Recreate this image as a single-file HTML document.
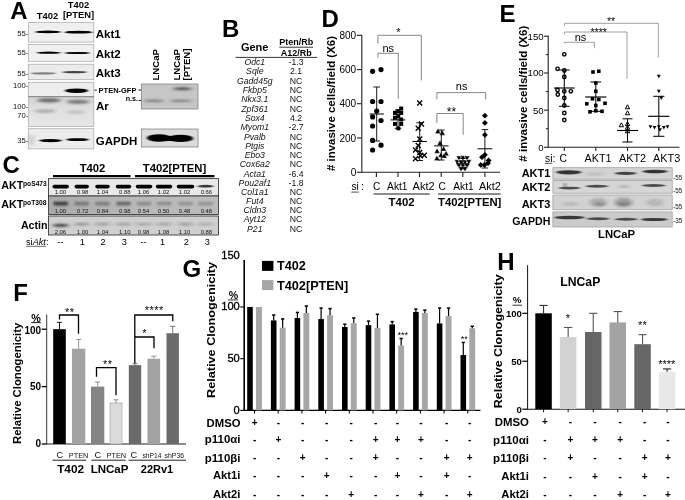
<!DOCTYPE html>
<html><head><meta charset="utf-8"><title>Figure</title>
<style>
html,body{margin:0;padding:0;background:#fff;}
body{width:685px;height:500px;overflow:hidden;}
svg{display:block;font-family:"Liberation Sans",sans-serif;filter:blur(0.3px);}
</style></head><body>
<svg width="685" height="500" viewBox="0 0 685 500">
<defs>
<filter id="b1" x="-20%" y="-80%" width="140%" height="260%"><feGaussianBlur stdDeviation="0.7"/></filter>
<filter id="b2" x="-20%" y="-80%" width="140%" height="260%"><feGaussianBlur stdDeviation="1.3"/></filter>
<filter id="b3" x="-20%" y="-80%" width="140%" height="260%"><feGaussianBlur stdDeviation="2.2"/></filter>
<filter id="e1" x="-30%" y="-100%" width="160%" height="300%"><feGaussianBlur stdDeviation="1.4 0.55"/></filter>
<filter id="e2" x="-30%" y="-100%" width="160%" height="300%"><feGaussianBlur stdDeviation="2 1.0"/></filter>
<filter id="e3" x="-30%" y="-100%" width="160%" height="300%"><feGaussianBlur stdDeviation="2.5 2"/></filter>
<filter id="tb" x="-5%" y="-5%" width="110%" height="110%"><feGaussianBlur stdDeviation="0.25"/></filter>
<linearGradient id="gAr" x1="0" y1="0" x2="0" y2="1"><stop offset="0" stop-color="#d4d4d4"/><stop offset="0.45" stop-color="#e0e0e0"/><stop offset="1" stop-color="#e6e6e6"/></linearGradient>
<linearGradient id="gC2" x1="0" y1="0" x2="1" y2="0"><stop offset="0" stop-color="#a9a9a9"/><stop offset="0.5" stop-color="#b8b8b8"/><stop offset="1" stop-color="#bcbcbc"/></linearGradient>
</defs>
<rect width="685" height="500" fill="#fff"/>
<g id="panelA">
<text x="10.3" y="18.8" font-size="24" font-weight="bold" text-anchor="start" fill="#000">A</text>
<text x="47.5" y="18.9" font-size="9.4" font-weight="bold" text-anchor="middle" fill="#000">T402</text>
<text x="78.5" y="7.8" font-size="9.4" font-weight="bold" text-anchor="middle" fill="#000">T402</text>
<text x="78.5" y="17.6" font-size="9.4" font-weight="bold" text-anchor="middle" fill="#000">[PTEN]</text>
<rect x="28.3" y="22.6" width="65.5" height="19.5" fill="#efefef" stroke="#a8a8a8" stroke-width="0.7"/>
<ellipse cx="48" cy="31.9" rx="12.75" ry="1.35" fill="#050505" opacity="1.0" filter="url(#e1)"/>
<ellipse cx="78.5" cy="32.2" rx="14.0" ry="1.35" fill="#050505" opacity="1.0" filter="url(#e1)"/>
<rect x="38.5" y="31.049999999999997" width="19" height="1.7" rx="0.85" fill="#000" opacity="1.0" filter="url(#b1)"/>
<rect x="67.5" y="31.35" width="22" height="1.7" rx="0.85" fill="#000" opacity="1.0" filter="url(#b1)"/>
<rect x="28.3" y="44.4" width="65.5" height="16.9" fill="#f0f0f0" stroke="#a8a8a8" stroke-width="0.7"/>
<ellipse cx="48.7" cy="52.7" rx="12.0" ry="1.1" fill="#0a0a0a" opacity="1.0" filter="url(#e1)"/>
<ellipse cx="77.3" cy="53" rx="12.5" ry="1.1" fill="#0a0a0a" opacity="1.0" filter="url(#e1)"/>
<rect x="39.7" y="52.1" width="18" height="1.2" rx="0.6" fill="#000" opacity="1.0" filter="url(#b1)"/>
<rect x="67.8" y="52.4" width="19" height="1.2" rx="0.6" fill="#000" opacity="1.0" filter="url(#b1)"/>
<rect x="28.3" y="64.2" width="65.5" height="15.5" fill="#ebebeb" stroke="#a8a8a8" stroke-width="0.7"/>
<ellipse cx="43.4" cy="73.4" rx="12.5" ry="1.1" fill="#666" opacity="0.8" filter="url(#e1)"/>
<ellipse cx="74.7" cy="72.1" rx="12.5" ry="1.2" fill="#333" opacity="0.9" filter="url(#e1)"/>
<rect x="28.3" y="82.3" width="65.5" height="14.4" fill="#ededed" stroke="#a8a8a8" stroke-width="0.7"/>
<ellipse cx="76.5" cy="90.7" rx="11.5" ry="2.3" fill="#000" opacity="1.0" filter="url(#e1)"/>
<rect x="68.0" y="89.2" width="17" height="3.0" rx="1.5" fill="#000" opacity="1.0" filter="url(#b1)"/>
<rect x="28.3" y="96.7" width="65.5" height="29.8" fill="url(#gAr)" stroke="#a8a8a8" stroke-width="0.7"/>
<ellipse cx="49" cy="100.3" rx="12.0" ry="2.1" fill="#444" opacity="0.75" filter="url(#e2)"/>
<ellipse cx="78" cy="101.8" rx="11.5" ry="2.1" fill="#555" opacity="0.7" filter="url(#e2)"/>
<ellipse cx="45" cy="111.1" rx="11.0" ry="1.8" fill="#777" opacity="0.5" filter="url(#e2)"/>
<ellipse cx="76" cy="112.1" rx="9.0" ry="1.7" fill="#888" opacity="0.42" filter="url(#e2)"/>
<rect x="28.3" y="128.7" width="65.5" height="20.2" fill="#ececec" stroke="#a8a8a8" stroke-width="0.7"/>
<ellipse cx="31.5" cy="140" rx="3.0" ry="6.0" fill="#999" opacity="0.35" filter="url(#e2)"/>
<ellipse cx="50.5" cy="140.6" rx="11.5" ry="1.6" fill="#050505" opacity="1.0" filter="url(#e1)"/>
<ellipse cx="77.5" cy="139.6" rx="11.5" ry="1.45" fill="#050505" opacity="1.0" filter="url(#e1)"/>
<rect x="43.0" y="139.7" width="15" height="1.8" rx="0.9" fill="#000" opacity="1.0" filter="url(#b1)"/>
<rect x="70.0" y="138.85" width="15" height="1.5" rx="0.75" fill="#000" opacity="1.0" filter="url(#b1)"/>
<line x1="28.3" y1="96.7" x2="93.8" y2="96.7" stroke="#777" stroke-width="0.8"/>
<text x="95.8" y="38" font-size="11.5" font-weight="bold" text-anchor="start" fill="#000">Akt1</text>
<text x="95.8" y="57.5" font-size="11.5" font-weight="bold" text-anchor="start" fill="#000">Akt2</text>
<text x="95.8" y="76.5" font-size="11.5" font-weight="bold" text-anchor="start" fill="#000">Akt3</text>
<text x="96" y="110" font-size="11.5" font-weight="bold" text-anchor="start" fill="#000">Ar</text>
<text x="95.8" y="145" font-size="11.5" font-weight="bold" text-anchor="start" fill="#000">GAPDH</text>
<text x="98.6" y="92.7" font-size="7.4" font-weight="bold" text-anchor="start" fill="#000" textLength="37.8" lengthAdjust="spacingAndGlyphs">PTEN-GFP</text>
<line x1="94.4" y1="90.1" x2="96.8" y2="90.1" stroke="#000" stroke-width="0.9"/>
<line x1="138.4" y1="90.1" x2="141.3" y2="90.1" stroke="#000" stroke-width="0.9"/>
<text x="125.7" y="100.9" font-size="7.2" font-weight="bold" text-anchor="start" fill="#000">n.s.</text>
<line x1="138.6" y1="100.4" x2="141.3" y2="100.4" stroke="#000" stroke-width="0.9"/>
<text x="28.4" y="36.0" font-size="7.7" font-weight="normal" text-anchor="end" fill="#111">55-</text>
<text x="28.4" y="55.1" font-size="7.7" font-weight="normal" text-anchor="end" fill="#111">55-</text>
<text x="28.4" y="75.9" font-size="7.7" font-weight="normal" text-anchor="end" fill="#111">55-</text>
<text x="28.4" y="87.5" font-size="7.7" font-weight="normal" text-anchor="end" fill="#111">100-</text>
<text x="28.4" y="108.6" font-size="7.7" font-weight="normal" text-anchor="end" fill="#111">100-</text>
<text x="28.4" y="117.6" font-size="7.7" font-weight="normal" text-anchor="end" fill="#111">70-</text>
<text x="28.4" y="143.0" font-size="7.7" font-weight="normal" text-anchor="end" fill="#111">35-</text>
<rect x="141.5" y="84" width="56.5" height="25" fill="#c6c6c6" stroke="#777" stroke-width="0.7"/>
<ellipse cx="182.5" cy="88.8" rx="9.5" ry="1.5" fill="#333" opacity="0.8" filter="url(#e2)"/>
<ellipse cx="154" cy="100.8" rx="10.5" ry="1.2" fill="#555" opacity="0.65" filter="url(#e2)"/>
<ellipse cx="181" cy="100.8" rx="12.0" ry="1.2" fill="#555" opacity="0.6" filter="url(#e2)"/>
<rect x="141.5" y="129" width="56.5" height="18" fill="#dcdcdc" stroke="#777" stroke-width="0.7"/>
<ellipse cx="159" cy="138" rx="12.0" ry="3.8" fill="#000" opacity="1.0" filter="url(#e1)"/>
<ellipse cx="180.5" cy="138.4" rx="12.5" ry="3.6" fill="#000" opacity="1.0" filter="url(#e1)"/>
<rect x="155.0" y="135.9" width="30" height="5.0" rx="2.5" fill="#000" opacity="1.0" filter="url(#b1)"/>
<text transform="translate(158.8,80.5) rotate(-90)" font-size="9.6" font-weight="bold">LNCaP</text>
<text transform="translate(180.4,80.5) rotate(-90)" font-size="9.6" font-weight="bold">LNCaP</text>
<text transform="translate(189.8,80.5) rotate(-90)" font-size="9.6" font-weight="bold">[PTEN]</text>
</g>
<g id="panelC">
<text x="2.4" y="172.9" font-size="24" font-weight="bold" text-anchor="start" fill="#000">C</text>
<text x="92.5" y="171.6" font-size="11.3" font-weight="bold" text-anchor="middle" fill="#000">T402</text>
<text x="174.5" y="171.6" font-size="11.3" font-weight="bold" text-anchor="middle" fill="#000">T402[PTEN]</text>
<line x1="53" y1="176.1" x2="130.5" y2="176.1" stroke="#000" stroke-width="2.1"/>
<line x1="135" y1="176.1" x2="214.5" y2="176.1" stroke="#000" stroke-width="2.1"/>
<rect x="48.5" y="178.6" width="170" height="17.4" fill="#e8e8e8" stroke="#3a3a3a" stroke-width="0.9"/>
<rect x="48.5" y="196" width="170" height="18.5" fill="url(#gC2)" stroke="#3a3a3a" stroke-width="0.9"/>
<rect x="48.5" y="216" width="170" height="19" fill="#cfcfcf" stroke="#3a3a3a" stroke-width="0.9"/>
<rect x="52.45" y="184.79999999999998" width="16.5" height="3.6" rx="1.8" fill="#000" opacity="1.0" filter="url(#b1)"/>
<text x="60.4" y="193.9" font-size="5.9" font-weight="normal" text-anchor="middle" fill="#111">1.00</text>
<rect x="74.45" y="184.79999999999998" width="14.5" height="3.6" rx="1.8" fill="#000" opacity="1.0" filter="url(#b1)"/>
<text x="82.6" y="193.9" font-size="5.9" font-weight="normal" text-anchor="middle" fill="#111">0.98</text>
<rect x="95.25" y="184.79999999999998" width="14.5" height="3.6" rx="1.8" fill="#000" opacity="1.0" filter="url(#b1)"/>
<text x="102.6" y="193.9" font-size="5.9" font-weight="normal" text-anchor="middle" fill="#111">1.04</text>
<rect x="115.75" y="184.79999999999998" width="15.5" height="3.6" rx="1.8" fill="#000" opacity="1.0" filter="url(#b1)"/>
<text x="124.8" y="193.9" font-size="5.9" font-weight="normal" text-anchor="middle" fill="#111">0.88</text>
<rect x="135.75" y="184.79999999999998" width="16.5" height="3.6" rx="1.8" fill="#000" opacity="1.0" filter="url(#b1)"/>
<text x="143.6" y="193.9" font-size="5.9" font-weight="normal" text-anchor="middle" fill="#111">1.06</text>
<rect x="155.75" y="184.79999999999998" width="16.5" height="3.6" rx="1.8" fill="#000" opacity="1.0" filter="url(#b1)"/>
<text x="163.6" y="193.9" font-size="5.9" font-weight="normal" text-anchor="middle" fill="#111">1.02</text>
<rect x="176.75" y="184.79999999999998" width="17.5" height="3.6" rx="1.8" fill="#000" opacity="1.0" filter="url(#b1)"/>
<text x="184.6" y="193.9" font-size="5.9" font-weight="normal" text-anchor="middle" fill="#111">1.02</text>
<ellipse cx="205.6" cy="186.2" rx="8.0" ry="1.4" fill="#222" opacity="0.9" filter="url(#e1)"/>
<text x="206.4" y="193.9" font-size="5.9" font-weight="normal" text-anchor="middle" fill="#111">0.66</text>
<rect x="53.2" y="201.79999999999998" width="15" height="3.6" rx="1.8" fill="#2a2a2a" opacity="0.85" filter="url(#b2)"/>
<text x="60.4" y="213.0" font-size="5.9" font-weight="normal" text-anchor="middle" fill="#111">1.00</text>
<rect x="74.2" y="201.79999999999998" width="15" height="3.6" rx="1.8" fill="#2a2a2a" opacity="0.4" filter="url(#b2)"/>
<text x="82.6" y="213.0" font-size="5.9" font-weight="normal" text-anchor="middle" fill="#111">0.72</text>
<rect x="95.0" y="201.79999999999998" width="15" height="3.6" rx="1.8" fill="#2a2a2a" opacity="0.38" filter="url(#b2)"/>
<text x="102.6" y="213.0" font-size="5.9" font-weight="normal" text-anchor="middle" fill="#111">0.84</text>
<rect x="116.0" y="201.79999999999998" width="15" height="3.6" rx="1.8" fill="#2a2a2a" opacity="0.55" filter="url(#b2)"/>
<text x="124.8" y="213.0" font-size="5.9" font-weight="normal" text-anchor="middle" fill="#111">0.98</text>
<rect x="136.5" y="201.79999999999998" width="15" height="3.6" rx="1.8" fill="#2a2a2a" opacity="0.3" filter="url(#b2)"/>
<text x="143.6" y="213.0" font-size="5.9" font-weight="normal" text-anchor="middle" fill="#111">0.54</text>
<rect x="156.5" y="201.79999999999998" width="15" height="3.6" rx="1.8" fill="#2a2a2a" opacity="0.3" filter="url(#b2)"/>
<text x="163.6" y="213.0" font-size="5.9" font-weight="normal" text-anchor="middle" fill="#111">0.50</text>
<rect x="178.0" y="201.79999999999998" width="15" height="3.6" rx="1.8" fill="#2a2a2a" opacity="0.26" filter="url(#b2)"/>
<text x="184.6" y="213.0" font-size="5.9" font-weight="normal" text-anchor="middle" fill="#111">0.48</text>
<rect x="198.1" y="201.79999999999998" width="15" height="3.6" rx="1.8" fill="#2a2a2a" opacity="0.26" filter="url(#b2)"/>
<text x="206.4" y="213.0" font-size="5.9" font-weight="normal" text-anchor="middle" fill="#111">0.48</text>
<ellipse cx="60.7" cy="225.39999999999998" rx="8.0" ry="1.7" fill="#2a2a2a" opacity="0.85" filter="url(#e2)"/>
<text x="60.4" y="233.7" font-size="5.9" font-weight="normal" text-anchor="middle" fill="#111">2.06</text>
<ellipse cx="81.7" cy="224.2" rx="8.0" ry="1.2" fill="#2a2a2a" opacity="0.4" filter="url(#e2)"/>
<text x="82.6" y="233.7" font-size="5.9" font-weight="normal" text-anchor="middle" fill="#111">1.00</text>
<ellipse cx="102.5" cy="224.2" rx="8.0" ry="1.2" fill="#2a2a2a" opacity="0.33" filter="url(#e2)"/>
<text x="102.6" y="233.7" font-size="5.9" font-weight="normal" text-anchor="middle" fill="#111">1.04</text>
<ellipse cx="123.5" cy="224.2" rx="8.0" ry="1.2" fill="#2a2a2a" opacity="0.33" filter="url(#e2)"/>
<text x="124.8" y="233.7" font-size="5.9" font-weight="normal" text-anchor="middle" fill="#111">1.10</text>
<ellipse cx="144" cy="224.2" rx="8.0" ry="1.2" fill="#2a2a2a" opacity="0.3" filter="url(#e2)"/>
<text x="143.6" y="233.7" font-size="5.9" font-weight="normal" text-anchor="middle" fill="#111">0.98</text>
<ellipse cx="164" cy="224.2" rx="8.0" ry="1.2" fill="#2a2a2a" opacity="0.3" filter="url(#e2)"/>
<text x="163.6" y="233.7" font-size="5.9" font-weight="normal" text-anchor="middle" fill="#111">1.08</text>
<ellipse cx="185.5" cy="224.2" rx="8.0" ry="1.2" fill="#2a2a2a" opacity="0.35" filter="url(#e2)"/>
<text x="184.6" y="233.7" font-size="5.9" font-weight="normal" text-anchor="middle" fill="#111">1.10</text>
<ellipse cx="205.6" cy="224.2" rx="8.0" ry="1.2" fill="#2a2a2a" opacity="0.25" filter="url(#e2)"/>
<text x="206.4" y="233.7" font-size="5.9" font-weight="normal" text-anchor="middle" fill="#111">0.88</text>
<text x="1.3" y="189.3" font-size="10.7" font-weight="bold" text-anchor="start" fill="#000">AKT</text>
<text x="23" y="186.4" font-size="6.7" font-weight="bold">poS473</text>
<text x="1.3" y="208.0" font-size="10.7" font-weight="bold" text-anchor="start" fill="#000">AKT</text>
<text x="23" y="204.9" font-size="6.7" font-weight="bold">poT308</text>
<text x="47.6" y="228.6" font-size="10.7" font-weight="bold" text-anchor="end" fill="#000">Actin</text>
<text x="26" y="244.9" font-size="9.2"><tspan>si<tspan font-style="italic">Akt</tspan></tspan>:</text>
<line x1="26" y1="246.3" x2="46" y2="246.3" stroke="#000" stroke-width="0.6"/>
<text x="60.4" y="244.9" font-size="9.2" font-weight="normal" text-anchor="middle" fill="#000">--</text>
<text x="82.4" y="244.9" font-size="9.2" font-weight="normal" text-anchor="middle" fill="#000">1</text>
<text x="103" y="244.9" font-size="9.2" font-weight="normal" text-anchor="middle" fill="#000">2</text>
<text x="124.4" y="244.9" font-size="9.2" font-weight="normal" text-anchor="middle" fill="#000">3</text>
<text x="143.6" y="244.9" font-size="9.2" font-weight="normal" text-anchor="middle" fill="#000">--</text>
<text x="162.6" y="244.9" font-size="9.2" font-weight="normal" text-anchor="middle" fill="#000">1</text>
<text x="186.4" y="244.9" font-size="9.2" font-weight="normal" text-anchor="middle" fill="#000">2</text>
<text x="207.4" y="244.9" font-size="9.2" font-weight="normal" text-anchor="middle" fill="#000">3</text>
</g>
<g id="panelB">
<text x="222.1" y="36.8" font-size="24" font-weight="bold" text-anchor="start" fill="#000">B</text>
<text x="254.7" y="51.0" font-size="11" font-weight="bold" text-anchor="middle" fill="#000">Gene</text>
<text x="296.2" y="45.0" font-size="9" font-weight="bold" text-anchor="middle" fill="#000">Pten/Rb</text>
<line x1="279.3" y1="47.2" x2="313" y2="47.2" stroke="#000" stroke-width="0.8"/>
<text x="296.2" y="55.7" font-size="9" font-weight="bold" text-anchor="middle" fill="#000">A12/Rb</text>
<line x1="235.5" y1="57.4" x2="317" y2="57.4" stroke="#000" stroke-width="0.8"/>
<text x="254.8" y="65.1" font-size="8.7" font-weight="normal" text-anchor="middle" font-style="italic" fill="#111">Odc1</text>
<text x="296" y="65.1" font-size="8.7" font-weight="normal" text-anchor="middle" fill="#111">-1.3</text>
<text x="254.8" y="74.44" font-size="8.7" font-weight="normal" text-anchor="middle" font-style="italic" fill="#111">Sqle</text>
<text x="296" y="74.44" font-size="8.7" font-weight="normal" text-anchor="middle" fill="#111">2.1</text>
<text x="254.8" y="83.78" font-size="8.7" font-weight="normal" text-anchor="middle" font-style="italic" fill="#111">Gadd45g</text>
<text x="296" y="83.78" font-size="8.7" font-weight="normal" text-anchor="middle" fill="#111">NC</text>
<text x="254.8" y="93.12" font-size="8.7" font-weight="normal" text-anchor="middle" font-style="italic" fill="#111">Fkbp5</text>
<text x="296" y="93.12" font-size="8.7" font-weight="normal" text-anchor="middle" fill="#111">NC</text>
<text x="254.8" y="102.46" font-size="8.7" font-weight="normal" text-anchor="middle" font-style="italic" fill="#111">Nkx3.1</text>
<text x="296" y="102.46" font-size="8.7" font-weight="normal" text-anchor="middle" fill="#111">NC</text>
<text x="254.8" y="111.8" font-size="8.7" font-weight="normal" text-anchor="middle" font-style="italic" fill="#111">Zpf361</text>
<text x="296" y="111.8" font-size="8.7" font-weight="normal" text-anchor="middle" fill="#111">NC</text>
<text x="254.8" y="121.14" font-size="8.7" font-weight="normal" text-anchor="middle" font-style="italic" fill="#111">Sox4</text>
<text x="296" y="121.14" font-size="8.7" font-weight="normal" text-anchor="middle" fill="#111">4.2</text>
<text x="254.8" y="130.48" font-size="8.7" font-weight="normal" text-anchor="middle" font-style="italic" fill="#111">Myom1</text>
<text x="296" y="130.48" font-size="8.7" font-weight="normal" text-anchor="middle" fill="#111">-2.7</text>
<text x="254.8" y="139.82" font-size="8.7" font-weight="normal" text-anchor="middle" font-style="italic" fill="#111">Pvalb</text>
<text x="296" y="139.82" font-size="8.7" font-weight="normal" text-anchor="middle" fill="#111">NC</text>
<text x="254.8" y="148.99" font-size="8.7" font-weight="normal" text-anchor="middle" font-style="italic" fill="#111">Ptgis</text>
<text x="296" y="148.99" font-size="8.7" font-weight="normal" text-anchor="middle" fill="#111">NC</text>
<text x="254.8" y="158.16" font-size="8.7" font-weight="normal" text-anchor="middle" font-style="italic" fill="#111">Ebo3</text>
<text x="296" y="158.16" font-size="8.7" font-weight="normal" text-anchor="middle" fill="#111">NC</text>
<text x="254.8" y="167.33" font-size="8.7" font-weight="normal" text-anchor="middle" font-style="italic" fill="#111">Cox6a2</text>
<text x="296" y="167.33" font-size="8.7" font-weight="normal" text-anchor="middle" fill="#111">NC</text>
<text x="254.8" y="176.5" font-size="8.7" font-weight="normal" text-anchor="middle" font-style="italic" fill="#111">Acta1</text>
<text x="296" y="176.5" font-size="8.7" font-weight="normal" text-anchor="middle" fill="#111">-6.4</text>
<text x="254.8" y="185.67" font-size="8.7" font-weight="normal" text-anchor="middle" font-style="italic" fill="#111">Pou2af1</text>
<text x="296" y="185.67" font-size="8.7" font-weight="normal" text-anchor="middle" fill="#111">-1.8</text>
<text x="254.8" y="194.84" font-size="8.7" font-weight="normal" text-anchor="middle" font-style="italic" fill="#111">Col1a1</text>
<text x="296" y="194.84" font-size="8.7" font-weight="normal" text-anchor="middle" fill="#111">NC</text>
<text x="254.8" y="204.01" font-size="8.7" font-weight="normal" text-anchor="middle" font-style="italic" fill="#111">Fut4</text>
<text x="296" y="204.01" font-size="8.7" font-weight="normal" text-anchor="middle" fill="#111">NC</text>
<text x="254.8" y="213.18" font-size="8.7" font-weight="normal" text-anchor="middle" font-style="italic" fill="#111">Cldn3</text>
<text x="296" y="213.18" font-size="8.7" font-weight="normal" text-anchor="middle" fill="#111">NC</text>
<text x="254.8" y="222.35" font-size="8.7" font-weight="normal" text-anchor="middle" font-style="italic" fill="#111">Ayt12</text>
<text x="296" y="222.35" font-size="8.7" font-weight="normal" text-anchor="middle" fill="#111">NC</text>
<text x="254.8" y="231.52" font-size="8.7" font-weight="normal" text-anchor="middle" font-style="italic" fill="#111">P21</text>
<text x="296" y="231.52" font-size="8.7" font-weight="normal" text-anchor="middle" fill="#111">NC</text>
</g>
<g id="panelD">
<text x="321.6" y="27.1" font-size="24" font-weight="bold" text-anchor="start" fill="#000">D</text>
<text transform="translate(334.9,103.5) rotate(-90)" font-size="10.8" font-weight="bold" text-anchor="middle" textLength="135" lengthAdjust="spacingAndGlyphs"># invasive cells/field (X6)</text>
<line x1="361.8" y1="34.7" x2="361.8" y2="172.3" stroke="#222" stroke-width="1.1"/>
<line x1="361.3" y1="172.3" x2="500" y2="172.3" stroke="#222" stroke-width="1.1"/>
<line x1="356.8" y1="35.3" x2="361.8" y2="35.3" stroke="#222" stroke-width="1.1"/>
<text x="356.2" y="38.9" font-size="10" font-weight="normal" text-anchor="end" fill="#000">800</text>
<line x1="356.8" y1="69.6" x2="361.8" y2="69.6" stroke="#222" stroke-width="1.1"/>
<text x="356.2" y="73.19999999999999" font-size="10" font-weight="normal" text-anchor="end" fill="#000">600</text>
<line x1="356.8" y1="103.7" x2="361.8" y2="103.7" stroke="#222" stroke-width="1.1"/>
<text x="356.2" y="107.3" font-size="10" font-weight="normal" text-anchor="end" fill="#000">400</text>
<line x1="356.8" y1="138" x2="361.8" y2="138" stroke="#222" stroke-width="1.1"/>
<text x="356.2" y="141.6" font-size="10" font-weight="normal" text-anchor="end" fill="#000">200</text>
<line x1="356.8" y1="172.3" x2="361.8" y2="172.3" stroke="#222" stroke-width="1.1"/>
<text x="356.2" y="175.9" font-size="10" font-weight="normal" text-anchor="end" fill="#000">0</text>
<line x1="376.4" y1="172.3" x2="376.4" y2="177" stroke="#222" stroke-width="1.1"/>
<line x1="398" y1="172.3" x2="398" y2="177" stroke="#222" stroke-width="1.1"/>
<line x1="419.5" y1="172.3" x2="419.5" y2="177" stroke="#222" stroke-width="1.1"/>
<line x1="441.2" y1="172.3" x2="441.2" y2="177" stroke="#222" stroke-width="1.1"/>
<line x1="462.8" y1="172.3" x2="462.8" y2="177" stroke="#222" stroke-width="1.1"/>
<line x1="484.9" y1="172.3" x2="484.9" y2="177" stroke="#222" stroke-width="1.1"/>
<circle cx="372.6" cy="71.3" r="2.6" fill="#000" stroke="none" stroke-width="0"/>
<circle cx="381" cy="69.6" r="2.6" fill="#000" stroke="none" stroke-width="0"/>
<circle cx="372.6" cy="101.5" r="2.6" fill="#000" stroke="none" stroke-width="0"/>
<circle cx="381" cy="101.5" r="2.6" fill="#000" stroke="none" stroke-width="0"/>
<circle cx="376.7" cy="111.1" r="2.6" fill="#000" stroke="none" stroke-width="0"/>
<circle cx="372.6" cy="116.9" r="2.6" fill="#000" stroke="none" stroke-width="0"/>
<circle cx="381" cy="120.5" r="2.6" fill="#000" stroke="none" stroke-width="0"/>
<circle cx="372.6" cy="126" r="2.6" fill="#000" stroke="none" stroke-width="0"/>
<circle cx="372.6" cy="140.4" r="2.6" fill="#000" stroke="none" stroke-width="0"/>
<circle cx="381" cy="145.2" r="2.6" fill="#000" stroke="none" stroke-width="0"/>
<circle cx="372.6" cy="150" r="2.6" fill="#000" stroke="none" stroke-width="0"/>
<line x1="369.5" y1="114" x2="383.9" y2="114" stroke="#000" stroke-width="1.0"/>
<line x1="376.7" y1="87" x2="376.7" y2="141" stroke="#000" stroke-width="0.9"/>
<line x1="373.4" y1="87" x2="380.0" y2="87" stroke="#000" stroke-width="0.9"/>
<line x1="373.4" y1="141" x2="380.0" y2="141" stroke="#000" stroke-width="0.9"/>
<rect x="399.2" y="106.5" width="4.0" height="4.0" fill="#000" stroke="none" stroke-width="0"/>
<rect x="396.3" y="109.1" width="4.0" height="4.0" fill="#000" stroke="none" stroke-width="0"/>
<rect x="393.0" y="110.9" width="4.0" height="4.0" fill="#000" stroke="none" stroke-width="0"/>
<rect x="399.2" y="110.9" width="4.0" height="4.0" fill="#000" stroke="none" stroke-width="0"/>
<rect x="396.3" y="114.2" width="4.0" height="4.0" fill="#000" stroke="none" stroke-width="0"/>
<rect x="393.0" y="115.7" width="4.0" height="4.0" fill="#000" stroke="none" stroke-width="0"/>
<rect x="399.2" y="117.5" width="4.0" height="4.0" fill="#000" stroke="none" stroke-width="0"/>
<rect x="393.0" y="121.9" width="4.0" height="4.0" fill="#000" stroke="none" stroke-width="0"/>
<rect x="399.2" y="121.9" width="4.0" height="4.0" fill="#000" stroke="none" stroke-width="0"/>
<rect x="396.3" y="126.30000000000001" width="4.0" height="4.0" fill="#000" stroke="none" stroke-width="0"/>
<line x1="390.6" y1="119.9" x2="405.4" y2="119.9" stroke="#000" stroke-width="1.0"/>
<line x1="398" y1="110" x2="398" y2="128.3" stroke="#000" stroke-width="0.9"/>
<line x1="394.7" y1="110" x2="401.3" y2="110" stroke="#000" stroke-width="0.9"/>
<line x1="394.7" y1="128.3" x2="401.3" y2="128.3" stroke="#000" stroke-width="0.9"/>
<path d="M417.2 100.5L422.2 105.5M417.2 105.5L422.2 100.5" stroke="#000" stroke-width="1.35" fill="none"/>
<path d="M419.0 121.4L424.0 126.4M419.0 126.4L424.0 121.4" stroke="#000" stroke-width="1.35" fill="none"/>
<path d="M415.7 125.80000000000001L420.7 130.8M415.7 130.8L420.7 125.80000000000001" stroke="#000" stroke-width="1.35" fill="none"/>
<path d="M417.2 136.4L422.2 141.4M417.2 141.4L422.2 136.4" stroke="#000" stroke-width="1.35" fill="none"/>
<path d="M415.7 143.0L420.7 148.0M415.7 148.0L420.7 143.0" stroke="#000" stroke-width="1.35" fill="none"/>
<path d="M413.0 147.4L418.0 152.4M413.0 152.4L418.0 147.4" stroke="#000" stroke-width="1.35" fill="none"/>
<path d="M417.2 150.0L422.2 155.0M417.2 155.0L422.2 150.0" stroke="#000" stroke-width="1.35" fill="none"/>
<path d="M421.8 152.7L426.8 157.7M421.8 157.7L426.8 152.7" stroke="#000" stroke-width="1.35" fill="none"/>
<path d="M417.9 153.3L422.9 158.3M417.9 158.3L422.9 153.3" stroke="#000" stroke-width="1.35" fill="none"/>
<path d="M413.0 156.2L418.0 161.2M413.0 161.2L418.0 156.2" stroke="#000" stroke-width="1.35" fill="none"/>
<line x1="412.5" y1="141.5" x2="426.9" y2="141.5" stroke="#000" stroke-width="1.0"/>
<line x1="419.7" y1="122.8" x2="419.7" y2="160.5" stroke="#000" stroke-width="0.9"/>
<line x1="416.4" y1="122.8" x2="423.0" y2="122.8" stroke="#000" stroke-width="0.9"/>
<line x1="416.4" y1="160.5" x2="423.0" y2="160.5" stroke="#000" stroke-width="0.9"/>
<path d="M437.9 128.39999999999998L440.7 133.44L435.09999999999997 133.44Z" fill="#000" stroke="#fff" stroke-width="0.3"/>
<path d="M442.3 130.1L445.1 135.14000000000001L439.5 135.14000000000001Z" fill="#000" stroke="#fff" stroke-width="0.3"/>
<path d="M440 140.2L442.8 145.24L437.2 145.24Z" fill="#000" stroke="#fff" stroke-width="0.3"/>
<path d="M437.1 148.2L439.90000000000003 153.24L434.3 153.24Z" fill="#000" stroke="#fff" stroke-width="0.3"/>
<path d="M443.6 145.89999999999998L446.40000000000003 150.94L440.8 150.94Z" fill="#000" stroke="#fff" stroke-width="0.3"/>
<path d="M446.1 150.7L448.90000000000003 155.74L443.3 155.74Z" fill="#000" stroke="#fff" stroke-width="0.3"/>
<path d="M440.9 152.2L443.7 157.24L438.09999999999997 157.24Z" fill="#000" stroke="#fff" stroke-width="0.3"/>
<path d="M436.9 155.39999999999998L439.7 160.44L434.09999999999997 160.44Z" fill="#000" stroke="#fff" stroke-width="0.3"/>
<path d="M444.2 153.0L447.0 158.04000000000002L441.4 158.04000000000002Z" fill="#000" stroke="#fff" stroke-width="0.3"/>
<line x1="434.1" y1="145.9" x2="448.5" y2="145.9" stroke="#000" stroke-width="1.0"/>
<line x1="441.3" y1="130" x2="441.3" y2="160" stroke="#000" stroke-width="0.9"/>
<line x1="438.0" y1="130" x2="444.6" y2="130" stroke="#000" stroke-width="0.9"/>
<line x1="438.0" y1="160" x2="444.6" y2="160" stroke="#000" stroke-width="0.9"/>
<path d="M459 161.10000000000002L461.8 156.06L456.2 156.06Z" fill="#000" stroke="#fff" stroke-width="0.45"/>
<path d="M463 160.8L465.8 155.76L460.2 155.76Z" fill="#000" stroke="#fff" stroke-width="0.45"/>
<path d="M467 161.10000000000002L469.8 156.06L464.2 156.06Z" fill="#000" stroke="#fff" stroke-width="0.45"/>
<path d="M457.2 164.8L460.0 159.76L454.4 159.76Z" fill="#000" stroke="#fff" stroke-width="0.45"/>
<path d="M461 165.10000000000002L463.8 160.06L458.2 160.06Z" fill="#000" stroke="#fff" stroke-width="0.45"/>
<path d="M465 165.10000000000002L467.8 160.06L462.2 160.06Z" fill="#000" stroke="#fff" stroke-width="0.45"/>
<path d="M468.8 164.8L471.6 159.76L466.0 159.76Z" fill="#000" stroke="#fff" stroke-width="0.45"/>
<path d="M459 168.8L461.8 163.76L456.2 163.76Z" fill="#000" stroke="#fff" stroke-width="0.45"/>
<path d="M463 169.10000000000002L465.8 164.06L460.2 164.06Z" fill="#000" stroke="#fff" stroke-width="0.45"/>
<path d="M467 168.8L469.8 163.76L464.2 163.76Z" fill="#000" stroke="#fff" stroke-width="0.45"/>
<path d="M461 171.8L463.8 166.76L458.2 166.76Z" fill="#000" stroke="#fff" stroke-width="0.45"/>
<path d="M465 171.8L467.8 166.76L462.2 166.76Z" fill="#000" stroke="#fff" stroke-width="0.45"/>
<line x1="456.3" y1="163.7" x2="469.3" y2="163.7" stroke="#000" stroke-width="1.0"/>
<line x1="462.8" y1="158.5" x2="462.8" y2="168.8" stroke="#000" stroke-width="0.9"/>
<line x1="460.3" y1="158.5" x2="465.3" y2="158.5" stroke="#000" stroke-width="0.9"/>
<line x1="460.3" y1="168.8" x2="465.3" y2="168.8" stroke="#000" stroke-width="0.9"/>
<path d="M484.9 112.8L487.79999999999995 115.7L484.9 118.60000000000001L482.0 115.7Z" fill="#000"/>
<path d="M484.9 120.0L487.79999999999995 122.9L484.9 125.80000000000001L482.0 122.9Z" fill="#000"/>
<path d="M484.9 132.0L487.79999999999995 134.9L484.9 137.8L482.0 134.9Z" fill="#000"/>
<path d="M484.9 151.9L487.79999999999995 154.8L484.9 157.70000000000002L482.0 154.8Z" fill="#000"/>
<path d="M482 154.29999999999998L484.9 157.2L482 160.1L479.1 157.2Z" fill="#000"/>
<path d="M488 160.29999999999998L490.9 163.2L488 166.1L485.1 163.2Z" fill="#000"/>
<path d="M480.8 162.0L483.7 164.9L480.8 167.8L477.90000000000003 164.9Z" fill="#000"/>
<path d="M484.4 162.0L487.29999999999995 164.9L484.4 167.8L481.5 164.9Z" fill="#000"/>
<path d="M488.6 157.6L491.5 160.5L488.6 163.4L485.70000000000005 160.5Z" fill="#000"/>
<line x1="477.5" y1="148.8" x2="492.29999999999995" y2="148.8" stroke="#000" stroke-width="1.0"/>
<line x1="484.9" y1="129.6" x2="484.9" y2="168" stroke="#000" stroke-width="0.9"/>
<line x1="481.59999999999997" y1="129.6" x2="488.2" y2="129.6" stroke="#000" stroke-width="0.9"/>
<line x1="481.59999999999997" y1="168" x2="488.2" y2="168" stroke="#000" stroke-width="0.9"/>
<path d="M377.9 43.7L377.9 35.3L421.3 35.3L421.3 80.4" fill="none" stroke="#555" stroke-width="0.7"/>
<text x="398.5" y="36.4" font-size="11" font-weight="normal" text-anchor="middle" fill="#000">*</text>
<path d="M377.9 57.6L377.9 53.3L398.3 53.3L398.3 98.9" fill="none" stroke="#555" stroke-width="0.7"/>
<text x="388.3" y="51.7" font-size="11" font-weight="normal" text-anchor="middle" fill="#000">ns</text>
<path d="M436.9 99.3L436.9 92.6L485.6 92.6L485.6 99.3" fill="none" stroke="#555" stroke-width="0.7"/>
<text x="461.6" y="90.3" font-size="11" font-weight="normal" text-anchor="middle" fill="#000">ns</text>
<path d="M436.9 123L436.9 113.5L463.2 113.5L463.2 134.8" fill="none" stroke="#555" stroke-width="0.7"/>
<text x="451.4" y="115.9" font-size="12" font-weight="normal" text-anchor="middle" fill="#000">**</text>
<text x="351.5" y="190.4" font-size="10.2" font-weight="normal" text-anchor="start" fill="#000">si</text>
<line x1="351.3" y1="192.1" x2="358.8" y2="192.1" stroke="#000" stroke-width="0.7"/>
<text x="361" y="190.4" font-size="10.2" font-weight="normal" text-anchor="start" fill="#000">:</text>
<text x="376.6" y="190.4" font-size="10.2" font-weight="normal" text-anchor="middle" fill="#000">C</text>
<text x="397.3" y="190.4" font-size="10.2" font-weight="normal" text-anchor="middle" fill="#000">Akt1</text>
<text x="423.6" y="190.4" font-size="10.2" font-weight="normal" text-anchor="middle" fill="#000" textLength="22" lengthAdjust="spacingAndGlyphs">Akt2</text>
<text x="442.1" y="190.4" font-size="10.2" font-weight="normal" text-anchor="middle" fill="#000">C</text>
<text x="463.5" y="190.4" font-size="10.2" font-weight="normal" text-anchor="middle" fill="#000">Akt1</text>
<text x="489.9" y="190.4" font-size="10.2" font-weight="normal" text-anchor="middle" fill="#000" textLength="21.8" lengthAdjust="spacingAndGlyphs">Akt2</text>
<line x1="373.5" y1="194" x2="429.8" y2="194" stroke="#000" stroke-width="0.9"/>
<line x1="438" y1="194" x2="500.8" y2="194" stroke="#000" stroke-width="0.9"/>
<text x="401.6" y="206.3" font-size="11.4" font-weight="bold" text-anchor="middle" fill="#000">T402</text>
<text x="469.7" y="206.3" font-size="11.3" font-weight="bold" text-anchor="middle" fill="#000">T402[PTEN]</text>
</g>
<g id="panelE">
<text x="499.4" y="21.5" font-size="24" font-weight="bold" text-anchor="start" fill="#000">E</text>
<text transform="translate(526.6,93.7) rotate(-90)" font-size="10.8" font-weight="bold" text-anchor="middle" textLength="136" lengthAdjust="spacingAndGlyphs"># invasive cells/field (X6)</text>
<line x1="548.2" y1="35.6" x2="548.2" y2="147.3" stroke="#222" stroke-width="1.1"/>
<line x1="547.7" y1="147.3" x2="679.5" y2="147.3" stroke="#222" stroke-width="1.1"/>
<line x1="544.0" y1="36.2" x2="548.2" y2="36.2" stroke="#222" stroke-width="1.1"/>
<text x="543.6" y="39.6" font-size="9.6" font-weight="normal" text-anchor="end" fill="#000">150</text>
<line x1="544.0" y1="73" x2="548.2" y2="73" stroke="#222" stroke-width="1.1"/>
<text x="543.6" y="76.4" font-size="9.6" font-weight="normal" text-anchor="end" fill="#000">100</text>
<line x1="544.0" y1="110.2" x2="548.2" y2="110.2" stroke="#222" stroke-width="1.1"/>
<text x="543.6" y="113.60000000000001" font-size="9.6" font-weight="normal" text-anchor="end" fill="#000">50</text>
<line x1="544.0" y1="147.3" x2="548.2" y2="147.3" stroke="#222" stroke-width="1.1"/>
<text x="543.6" y="150.70000000000002" font-size="9.6" font-weight="normal" text-anchor="end" fill="#000">0</text>
<line x1="545.8000000000001" y1="54.6" x2="548.2" y2="54.6" stroke="#222" stroke-width="1.0"/>
<line x1="545.8000000000001" y1="91.6" x2="548.2" y2="91.6" stroke="#222" stroke-width="1.0"/>
<line x1="545.8000000000001" y1="128.7" x2="548.2" y2="128.7" stroke="#222" stroke-width="1.0"/>
<line x1="564.3" y1="147.3" x2="564.3" y2="151" stroke="#222" stroke-width="1.1"/>
<line x1="595.8" y1="147.3" x2="595.8" y2="151" stroke="#222" stroke-width="1.1"/>
<line x1="627.5" y1="147.3" x2="627.5" y2="151" stroke="#222" stroke-width="1.1"/>
<line x1="658.8" y1="147.3" x2="658.8" y2="151" stroke="#222" stroke-width="1.1"/>
<circle cx="564.3" cy="54.3" r="1.7" fill="#fff" stroke="#000" stroke-width="1.4"/>
<circle cx="557.5" cy="68.8" r="1.7" fill="#fff" stroke="#000" stroke-width="1.4"/>
<circle cx="564.3" cy="70.5" r="1.7" fill="#fff" stroke="#000" stroke-width="1.4"/>
<circle cx="564.3" cy="77" r="1.7" fill="#fff" stroke="#000" stroke-width="1.4"/>
<circle cx="557.5" cy="90" r="1.7" fill="#fff" stroke="#000" stroke-width="1.4"/>
<circle cx="564.3" cy="91.3" r="1.7" fill="#fff" stroke="#000" stroke-width="1.4"/>
<circle cx="570.8" cy="91.3" r="1.7" fill="#fff" stroke="#000" stroke-width="1.4"/>
<circle cx="557.8" cy="94.5" r="1.7" fill="#fff" stroke="#000" stroke-width="1.4"/>
<circle cx="564.3" cy="98" r="1.7" fill="#fff" stroke="#000" stroke-width="1.4"/>
<circle cx="564.3" cy="105.5" r="1.7" fill="#fff" stroke="#000" stroke-width="1.4"/>
<circle cx="564.3" cy="113" r="1.7" fill="#fff" stroke="#000" stroke-width="1.4"/>
<circle cx="564.3" cy="120" r="1.7" fill="#fff" stroke="#000" stroke-width="1.4"/>
<line x1="554.0" y1="88" x2="574.5999999999999" y2="88" stroke="#000" stroke-width="1.15"/>
<line x1="564.3" y1="70" x2="564.3" y2="106.3" stroke="#000" stroke-width="1.035"/>
<line x1="559.0" y1="70" x2="569.5999999999999" y2="70" stroke="#000" stroke-width="1.035"/>
<line x1="559.0" y1="106.3" x2="569.5999999999999" y2="106.3" stroke="#000" stroke-width="1.035"/>
<rect x="591.2" y="70.2" width="3.6" height="3.6" fill="#000" stroke="none" stroke-width="0"/>
<rect x="597.0" y="69.5" width="3.6" height="3.6" fill="#000" stroke="none" stroke-width="0"/>
<rect x="594.0" y="81.2" width="3.6" height="3.6" fill="#000" stroke="none" stroke-width="0"/>
<rect x="594.0" y="89.5" width="3.6" height="3.6" fill="#000" stroke="none" stroke-width="0"/>
<rect x="590.7" y="97.0" width="3.6" height="3.6" fill="#000" stroke="none" stroke-width="0"/>
<rect x="597.0" y="97.7" width="3.6" height="3.6" fill="#000" stroke="none" stroke-width="0"/>
<rect x="585.0" y="102.0" width="3.6" height="3.6" fill="#000" stroke="none" stroke-width="0"/>
<rect x="603.2" y="101.5" width="3.6" height="3.6" fill="#000" stroke="none" stroke-width="0"/>
<rect x="594.0" y="103.7" width="3.6" height="3.6" fill="#000" stroke="none" stroke-width="0"/>
<rect x="588.2" y="110.0" width="3.6" height="3.6" fill="#000" stroke="none" stroke-width="0"/>
<rect x="594.0" y="109.0" width="3.6" height="3.6" fill="#000" stroke="none" stroke-width="0"/>
<rect x="600.2" y="109.5" width="3.6" height="3.6" fill="#000" stroke="none" stroke-width="0"/>
<line x1="585.1999999999999" y1="97" x2="606.4" y2="97" stroke="#000" stroke-width="1.15"/>
<line x1="595.8" y1="82" x2="595.8" y2="111.3" stroke="#000" stroke-width="1.035"/>
<line x1="590.5" y1="82" x2="601.0999999999999" y2="82" stroke="#000" stroke-width="1.035"/>
<line x1="590.5" y1="111.3" x2="601.0999999999999" y2="111.3" stroke="#000" stroke-width="1.035"/>
<path d="M627.5 104.8L629.7 108.76L625.3 108.76Z" fill="#fff" stroke="#000" stroke-width="1.0"/>
<path d="M627.5 110.8L629.7 114.76L625.3 114.76Z" fill="#fff" stroke="#000" stroke-width="1.0"/>
<path d="M621.3 122.8L623.5 126.76L619.0999999999999 126.76Z" fill="#fff" stroke="#000" stroke-width="1.0"/>
<path d="M627.5 121.6L629.7 125.56L625.3 125.56Z" fill="#fff" stroke="#000" stroke-width="1.0"/>
<path d="M627.5 125.3L629.7 129.26L625.3 129.26Z" fill="#fff" stroke="#000" stroke-width="1.0"/>
<path d="M627.5 128.8L629.7 132.76L625.3 132.76Z" fill="#fff" stroke="#000" stroke-width="1.0"/>
<line x1="617.0" y1="130.5" x2="638.0" y2="130.5" stroke="#000" stroke-width="1.15"/>
<line x1="627.5" y1="118.8" x2="627.5" y2="142" stroke="#000" stroke-width="1.035"/>
<line x1="622.5" y1="118.8" x2="632.5" y2="118.8" stroke="#000" stroke-width="1.035"/>
<line x1="622.5" y1="142" x2="632.5" y2="142" stroke="#000" stroke-width="1.035"/>
<path d="M658.8 78.2L660.6999999999999 74.78L656.9 74.78Z" fill="#000" stroke="none" stroke-width="0"/>
<path d="M658.8 93.2L660.6999999999999 89.78L656.9 89.78Z" fill="#000" stroke="none" stroke-width="0"/>
<path d="M661.3 99.9L663.1999999999999 96.48L659.4 96.48Z" fill="#000" stroke="none" stroke-width="0"/>
<path d="M650.5 128.7L652.4 125.28L648.6 125.28Z" fill="#000" stroke="none" stroke-width="0"/>
<path d="M654.5 129.4L656.4 125.98L652.6 125.98Z" fill="#000" stroke="none" stroke-width="0"/>
<path d="M658.8 128.7L660.6999999999999 125.28L656.9 125.28Z" fill="#000" stroke="none" stroke-width="0"/>
<path d="M663.8 129.4L665.6999999999999 125.98L661.9 125.98Z" fill="#000" stroke="none" stroke-width="0"/>
<path d="M667.5 128.7L669.4 125.28L665.6 125.28Z" fill="#000" stroke="none" stroke-width="0"/>
<path d="M660 131.70000000000002L661.9 128.28L658.1 128.28Z" fill="#000" stroke="none" stroke-width="0"/>
<line x1="648.1999999999999" y1="116.3" x2="669.4" y2="116.3" stroke="#000" stroke-width="1.15"/>
<line x1="658.8" y1="96.3" x2="658.8" y2="136.3" stroke="#000" stroke-width="1.035"/>
<line x1="653.1999999999999" y1="96.3" x2="664.4" y2="96.3" stroke="#000" stroke-width="1.035"/>
<line x1="653.1999999999999" y1="136.3" x2="664.4" y2="136.3" stroke="#000" stroke-width="1.035"/>
<path d="M564.5 26L564.5 23.3L658.3 23.3L658.3 57.5" fill="none" stroke="#888" stroke-width="0.8"/>
<path d="M564.5 34.5L564.5 32L627 32L627 78.8" fill="none" stroke="#888" stroke-width="0.8"/>
<path d="M564.5 43.7L564.5 42.3L594.4 42.3L594.4 48.2" fill="none" stroke="#888" stroke-width="0.8"/>
<text x="611" y="25.3" font-size="10.6" font-weight="normal" text-anchor="middle" fill="#000">**</text>
<text x="598.7" y="35.9" font-size="10.6" font-weight="normal" text-anchor="middle" fill="#000">****</text>
<text x="580.5" y="41.3" font-size="11" font-weight="normal" text-anchor="middle" fill="#000">ns</text>
<text x="545" y="161.6" font-size="10.4" font-weight="normal" text-anchor="start" fill="#000">si</text>
<line x1="544.8" y1="163.3" x2="552.3" y2="163.3" stroke="#000" stroke-width="0.7"/>
<text x="552.6" y="161.6" font-size="10.4" font-weight="normal" text-anchor="start" fill="#000">:</text>
<text x="563.2" y="161.6" font-size="10.4" font-weight="normal" text-anchor="middle" fill="#000">C</text>
<text x="598" y="161.6" font-size="10.4" font-weight="normal" text-anchor="middle" fill="#000" textLength="27.2" lengthAdjust="spacingAndGlyphs">AKT1</text>
<text x="632.5" y="161.6" font-size="10.4" font-weight="normal" text-anchor="middle" fill="#000" textLength="27.2" lengthAdjust="spacingAndGlyphs">AKT2</text>
<text x="666.7" y="161.6" font-size="10.4" font-weight="normal" text-anchor="middle" fill="#000" textLength="27.2" lengthAdjust="spacingAndGlyphs">AKT3</text>
<rect x="552.9" y="167.7" width="119.3" height="11.5" fill="#d3d3d3" stroke="#999" stroke-width="0.7"/>
<rect x="552.9" y="180.4" width="119.3" height="12.8" fill="#d6d6d6" stroke="#999" stroke-width="0.7"/>
<rect x="552.9" y="195" width="119.3" height="14.8" fill="#d3d3d3" stroke="#999" stroke-width="0.7"/>
<rect x="552.9" y="211.9" width="119.3" height="15.1" fill="#cbcbcb" stroke="#999" stroke-width="0.7"/>
<ellipse cx="568.8" cy="172.3" rx="12.5" ry="2.1" fill="#222" opacity="0.9" filter="url(#e1)"/>
<ellipse cx="595" cy="174" rx="9.0" ry="1.0" fill="#888" opacity="0.4" filter="url(#e2)"/>
<ellipse cx="625.6" cy="173.3" rx="11.0" ry="1.6" fill="#2a2a2a" opacity="0.85" filter="url(#e1)"/>
<ellipse cx="655" cy="171.5" rx="12.5" ry="1.8" fill="#222" opacity="0.9" filter="url(#e1)"/>
<ellipse cx="569.4" cy="188.1" rx="11.0" ry="1.4" fill="#333" opacity="0.85" filter="url(#e1)"/>
<ellipse cx="565" cy="186" rx="1.5" ry="3.5" fill="#555" opacity="0.5" filter="url(#e1)"/>
<ellipse cx="597" cy="186.3" rx="11.5" ry="1.5" fill="#333" opacity="0.85" filter="url(#e1)"/>
<ellipse cx="624" cy="186.5" rx="7.0" ry="0.8" fill="#666" opacity="0.5" filter="url(#e2)"/>
<ellipse cx="653.7" cy="185.5" rx="12.0" ry="1.5" fill="#333" opacity="0.85" filter="url(#e1)"/>
<ellipse cx="570" cy="203.8" rx="9.0" ry="1.6" fill="#666" opacity="0.3" filter="url(#e2)"/>
<ellipse cx="598" cy="202.5" rx="9.0" ry="4.5" fill="#555" opacity="0.3" filter="url(#e2)"/>
<ellipse cx="600" cy="204" rx="5.0" ry="1.5" fill="#333" opacity="0.35" filter="url(#e2)"/>
<ellipse cx="623.5" cy="202.5" rx="9.0" ry="5.0" fill="#444" opacity="0.35" filter="url(#e2)"/>
<ellipse cx="623.5" cy="203.8" rx="7.0" ry="1.5" fill="#222" opacity="0.35" filter="url(#e2)"/>
<ellipse cx="655" cy="202.5" rx="9.0" ry="4.0" fill="#777" opacity="0.28" filter="url(#e2)"/>
<ellipse cx="569.5" cy="217.5" rx="15.0" ry="1.7" fill="#2a2a2a" opacity="0.9" filter="url(#e1)"/>
<ellipse cx="598" cy="218.8" rx="11.5" ry="1.5" fill="#333" opacity="0.85" filter="url(#e1)"/>
<ellipse cx="626.3" cy="219.3" rx="11.5" ry="1.5" fill="#333" opacity="0.85" filter="url(#e1)"/>
<ellipse cx="654.3" cy="219.5" rx="13.0" ry="1.6" fill="#2a2a2a" opacity="0.9" filter="url(#e1)"/>
<text x="550.4" y="177.4" font-size="11" font-weight="bold" text-anchor="end" fill="#000">AKT1</text>
<text x="550.4" y="191.2" font-size="11" font-weight="bold" text-anchor="end" fill="#000">AKT2</text>
<text x="550.4" y="208" font-size="11" font-weight="bold" text-anchor="end" fill="#000">AKT3</text>
<text x="550.4" y="225.2" font-size="10.6" font-weight="bold" text-anchor="end" fill="#000">GAPDH</text>
<text x="673.2" y="179.5" font-size="6.3" font-weight="normal" text-anchor="start" fill="#111">-55</text>
<text x="673.2" y="192.8" font-size="6.3" font-weight="normal" text-anchor="start" fill="#111">-55</text>
<text x="673.2" y="208.9" font-size="6.3" font-weight="normal" text-anchor="start" fill="#111">-55</text>
<text x="673.2" y="223.4" font-size="6.3" font-weight="normal" text-anchor="start" fill="#111">-35</text>
<text x="616.6" y="237.9" font-size="11.3" font-weight="bold" text-anchor="middle" fill="#000">LNCaP</text>
</g>
<g id="panelF">
<text x="13.3" y="300.8" font-size="24" font-weight="bold" text-anchor="start" fill="#000">F</text>
<text transform="translate(21,383.3) rotate(-90)" font-size="11.3" font-weight="bold" text-anchor="middle">Relative Clonogenicity</text>
<line x1="46.7" y1="314.5" x2="46.7" y2="444.0" stroke="#222" stroke-width="0.9"/>
<line x1="46.300000000000004" y1="444.0" x2="186" y2="444.0" stroke="#222" stroke-width="1.1"/>
<line x1="41.7" y1="329.2" x2="46.7" y2="329.2" stroke="#000" stroke-width="1.3"/>
<text x="41.1" y="333.9" font-size="10" font-weight="bold" text-anchor="end" fill="#000">100</text>
<line x1="41.7" y1="386.6" x2="46.7" y2="386.6" stroke="#000" stroke-width="1.3"/>
<text x="41.1" y="390.3" font-size="10" font-weight="bold" text-anchor="end" fill="#000">50</text>
<line x1="41.7" y1="444.0" x2="46.7" y2="444.0" stroke="#000" stroke-width="1.3"/>
<text x="41.1" y="446.6" font-size="10" font-weight="bold" text-anchor="end" fill="#000">0</text>
<text x="36" y="321.5" font-size="10.8" font-weight="bold" text-anchor="middle" fill="#000">%</text>
<line x1="31.2" y1="322.6" x2="40.8" y2="322.6" stroke="#000" stroke-width="0.9"/>
<rect x="53.2" y="329.2" width="12.6" height="114.80000000000001" fill="#000" stroke="none" stroke-width="0"/>
<line x1="59.5" y1="322.31" x2="59.5" y2="329.2" stroke="#000" stroke-width="0.9"/>
<line x1="56.9" y1="322.31" x2="62.1" y2="322.31" stroke="#000" stroke-width="0.9"/>
<rect x="72" y="348.72" width="13.3" height="95.27999999999997" fill="#a3a3a3" stroke="none" stroke-width="0"/>
<line x1="78.65" y1="339.53" x2="78.65" y2="348.72" stroke="#888" stroke-width="0.9"/>
<line x1="76.05000000000001" y1="339.53" x2="81.25" y2="339.53" stroke="#888" stroke-width="0.9"/>
<rect x="91" y="386.6" width="13.3" height="57.39999999999998" fill="#858585" stroke="none" stroke-width="0"/>
<line x1="97.65" y1="382.01" x2="97.65" y2="386.6" stroke="#888" stroke-width="0.9"/>
<line x1="95.05000000000001" y1="382.01" x2="100.25" y2="382.01" stroke="#888" stroke-width="0.9"/>
<rect x="110.0" y="403.02" width="12.0" height="40.98000000000002" fill="#dcdcdc" stroke="#999" stroke-width="0.6"/>
<line x1="116.0" y1="399.8" x2="116.0" y2="403.02" stroke="#888" stroke-width="0.9"/>
<line x1="113.4" y1="399.8" x2="118.6" y2="399.8" stroke="#888" stroke-width="0.9"/>
<rect x="128.8" y="365.13" width="12.4" height="78.87" fill="#6a6a6a" stroke="none" stroke-width="0"/>
<line x1="135.0" y1="363.64" x2="135.0" y2="365.13" stroke="#6a6a6a" stroke-width="0.9"/>
<line x1="132.4" y1="363.64" x2="137.6" y2="363.64" stroke="#6a6a6a" stroke-width="0.9"/>
<rect x="147.5" y="358.7" width="12.6" height="85.30000000000001" fill="#a3a3a3" stroke="none" stroke-width="0"/>
<line x1="153.8" y1="356.18" x2="153.8" y2="358.7" stroke="#888" stroke-width="0.9"/>
<line x1="151.20000000000002" y1="356.18" x2="156.4" y2="356.18" stroke="#888" stroke-width="0.9"/>
<rect x="166.5" y="333.22" width="12.4" height="110.77999999999997" fill="#6a6a6a" stroke="none" stroke-width="0"/>
<line x1="172.7" y1="326.33" x2="172.7" y2="333.22" stroke="#6a6a6a" stroke-width="0.9"/>
<line x1="170.1" y1="326.33" x2="175.29999999999998" y2="326.33" stroke="#6a6a6a" stroke-width="0.9"/>
<path d="M59.5 319.5L59.5 315L78.5 315L78.5 333.8" fill="none" stroke="#000" stroke-width="1.3"/>
<text x="69.8" y="315.5" font-size="11" font-weight="normal" text-anchor="middle" fill="#000" letter-spacing="0.5">**</text>
<path d="M96.5 376.8L96.5 367.6L116 367.6L116 395.3" fill="none" stroke="#000" stroke-width="1.3"/>
<text x="107.8" y="368.2" font-size="11" font-weight="normal" text-anchor="middle" fill="#000" letter-spacing="0.5">**</text>
<path d="M134.8 363.3L134.8 315L172.8 315L172.8 321.3" fill="none" stroke="#000" stroke-width="1.3"/>
<text x="154.3" y="314.1" font-size="11" font-weight="normal" text-anchor="middle" fill="#000" letter-spacing="0.5">****</text>
<path d="M134.8 337L134.8 337L154 337L154 348.3" fill="none" stroke="#000" stroke-width="1.3"/>
<text x="144.5" y="337" font-size="11" font-weight="normal" text-anchor="middle" fill="#000">*</text>
<text x="59.9" y="458.4" font-size="9.2" font-weight="normal" text-anchor="middle" fill="#111">C</text>
<text x="78.6" y="458.4" font-size="7.4" font-weight="normal" text-anchor="middle" fill="#111">PTEN</text>
<text x="97.8" y="458.4" font-size="9.2" font-weight="normal" text-anchor="middle" fill="#111">C</text>
<text x="116.3" y="458.4" font-size="7.4" font-weight="normal" text-anchor="middle" fill="#111">PTEN</text>
<text x="133.7" y="458.4" font-size="9.2" font-weight="normal" text-anchor="middle" fill="#111">C</text>
<text x="152" y="458.4" font-size="6.7" font-weight="normal" text-anchor="middle" fill="#111">shP14</text>
<text x="174.3" y="458.4" font-size="6.9" font-weight="normal" text-anchor="middle" fill="#111">shP36</text>
<line x1="52.4" y1="460.2" x2="86.2" y2="460.2" stroke="#222" stroke-width="1.0"/>
<line x1="91.4" y1="460.2" x2="125.5" y2="460.2" stroke="#222" stroke-width="1.0"/>
<line x1="128.5" y1="460.2" x2="186" y2="460.2" stroke="#222" stroke-width="1.0"/>
<text x="70.6" y="473.3" font-size="11.8" font-weight="bold" text-anchor="middle" fill="#000">T402</text>
<text x="109.5" y="473.3" font-size="11.5" font-weight="bold" text-anchor="middle" fill="#000">LNCaP</text>
<text x="157" y="473.3" font-size="11" font-weight="bold" text-anchor="middle" fill="#000">22Rv1</text>
</g>
<g id="panelG">
<text x="182.4" y="276.8" font-size="24" font-weight="bold" text-anchor="start" fill="#000">G</text>
<text transform="translate(215.3,330) rotate(-90)" font-size="10.4" font-weight="bold" text-anchor="middle" textLength="136" lengthAdjust="spacingAndGlyphs">Relative Clonogenicity</text>
<line x1="244.2" y1="260" x2="244.2" y2="410.4" stroke="#000" stroke-width="1.6"/>
<line x1="243.39999999999998" y1="410.4" x2="480.4" y2="410.4" stroke="#000" stroke-width="1.4"/>
<text x="239.79999999999998" y="258.72" font-size="10" font-weight="normal" text-anchor="end" fill="#000" textLength="18.6" lengthAdjust="spacingAndGlyphs" stroke="#000" stroke-width="0.3">150</text>
<line x1="240.2" y1="306.95" x2="244.2" y2="306.95" stroke="#000" stroke-width="1.1"/>
<text x="239.79999999999998" y="310.45" font-size="10" font-weight="normal" text-anchor="end" fill="#000" textLength="18.6" lengthAdjust="spacingAndGlyphs" stroke="#000" stroke-width="0.3">100</text>
<line x1="240.2" y1="358.67" x2="244.2" y2="358.67" stroke="#000" stroke-width="1.1"/>
<text x="239.79999999999998" y="362.17" font-size="10" font-weight="normal" text-anchor="end" fill="#000" textLength="12.4" lengthAdjust="spacingAndGlyphs" stroke="#000" stroke-width="0.3">50</text>
<line x1="240.2" y1="410.4" x2="244.2" y2="410.4" stroke="#000" stroke-width="1.1"/>
<text x="239.79999999999998" y="413.9" font-size="10" font-weight="normal" text-anchor="end" fill="#000" textLength="6.2" lengthAdjust="spacingAndGlyphs" stroke="#000" stroke-width="0.3">0</text>
<text x="233.4" y="298.9" font-size="10.6" font-weight="bold" text-anchor="middle" fill="#000">%</text>
<line x1="228" y1="299.9" x2="238" y2="299.9" stroke="#000" stroke-width="0.8"/>
<rect x="262.0" y="260.9" width="11.4" height="10" fill="#000" stroke="none" stroke-width="0"/>
<text x="277" y="270.4" font-size="12.7" font-weight="bold" text-anchor="start" fill="#000">T402</text>
<rect x="262.0" y="280.1" width="11.4" height="10" fill="#a6a6a6" stroke="none" stroke-width="0"/>
<text x="277" y="289.8" font-size="12.7" font-weight="bold" text-anchor="start" fill="#000">T402[PTEN]</text>
<rect x="247.2" y="306.95" width="5.6" height="103.45" fill="#000" stroke="none" stroke-width="0"/>
<rect x="256.0" y="306.95" width="5.9" height="103.45" fill="#a6a6a6" stroke="none" stroke-width="0"/>
<line x1="254.5" y1="410.4" x2="254.5" y2="413.59999999999997" stroke="#000" stroke-width="1.0"/>
<rect x="270.9" y="320.4" width="5.6" height="90.0" fill="#000" stroke="none" stroke-width="0"/>
<rect x="279.7" y="327.64" width="5.9" height="82.76" fill="#a6a6a6" stroke="none" stroke-width="0"/>
<line x1="273.7" y1="314.71" x2="273.7" y2="320.4" stroke="#000" stroke-width="1.2"/>
<line x1="272.1" y1="315.01" x2="275.3" y2="315.01" stroke="#000" stroke-width="1.5"/>
<line x1="282.65" y1="318.64" x2="282.65" y2="327.64" stroke="#000" stroke-width="1.2"/>
<line x1="281.0" y1="318.94" x2="284.3" y2="318.94" stroke="#000" stroke-width="1.5"/>
<line x1="278.2" y1="410.4" x2="278.2" y2="413.59999999999997" stroke="#000" stroke-width="1.0"/>
<rect x="294.6" y="318.02" width="5.6" height="92.38" fill="#000" stroke="none" stroke-width="0"/>
<rect x="303.4" y="312.95" width="5.9" height="97.45" fill="#a6a6a6" stroke="none" stroke-width="0"/>
<line x1="297.4" y1="312.12" x2="297.4" y2="318.02" stroke="#000" stroke-width="1.2"/>
<line x1="295.8" y1="312.42" x2="299.0" y2="312.42" stroke="#000" stroke-width="1.5"/>
<line x1="306.35" y1="305.71" x2="306.35" y2="312.95" stroke="#000" stroke-width="1.2"/>
<line x1="304.7" y1="306.01" x2="308.0" y2="306.01" stroke="#000" stroke-width="1.5"/>
<line x1="301.9" y1="410.4" x2="301.9" y2="413.59999999999997" stroke="#000" stroke-width="1.0"/>
<rect x="318.3" y="319.05" width="5.6" height="91.35" fill="#000" stroke="none" stroke-width="0"/>
<rect x="327.1" y="315.23" width="5.9" height="95.17" fill="#a6a6a6" stroke="none" stroke-width="0"/>
<line x1="321.1" y1="307.78" x2="321.1" y2="319.05" stroke="#000" stroke-width="1.2"/>
<line x1="319.5" y1="308.08" x2="322.7" y2="308.08" stroke="#000" stroke-width="1.5"/>
<line x1="330.05" y1="308.29" x2="330.05" y2="315.23" stroke="#000" stroke-width="1.2"/>
<line x1="328.4" y1="308.59000000000003" x2="331.7" y2="308.59000000000003" stroke="#000" stroke-width="1.5"/>
<line x1="325.6" y1="410.4" x2="325.6" y2="413.59999999999997" stroke="#000" stroke-width="1.0"/>
<rect x="342.0" y="327.02" width="5.6" height="83.38" fill="#000" stroke="none" stroke-width="0"/>
<rect x="350.8" y="323.09" width="5.9" height="87.31" fill="#a6a6a6" stroke="none" stroke-width="0"/>
<line x1="344.8" y1="323.92" x2="344.8" y2="327.02" stroke="#000" stroke-width="1.2"/>
<line x1="343.2" y1="324.22" x2="346.4" y2="324.22" stroke="#000" stroke-width="1.5"/>
<line x1="353.75" y1="317.71" x2="353.75" y2="323.09" stroke="#000" stroke-width="1.2"/>
<line x1="352.1" y1="318.01" x2="355.4" y2="318.01" stroke="#000" stroke-width="1.5"/>
<line x1="349.3" y1="410.4" x2="349.3" y2="413.59999999999997" stroke="#000" stroke-width="1.0"/>
<rect x="365.7" y="325.16" width="5.6" height="85.24" fill="#000" stroke="none" stroke-width="0"/>
<rect x="374.5" y="327.85" width="5.9" height="82.55" fill="#a6a6a6" stroke="none" stroke-width="0"/>
<line x1="368.5" y1="320.81" x2="368.5" y2="325.16" stroke="#000" stroke-width="1.2"/>
<line x1="366.9" y1="321.11" x2="370.1" y2="321.11" stroke="#000" stroke-width="1.5"/>
<line x1="377.45" y1="313.98" x2="377.45" y2="327.85" stroke="#000" stroke-width="1.2"/>
<line x1="375.8" y1="314.28000000000003" x2="379.1" y2="314.28000000000003" stroke="#000" stroke-width="1.5"/>
<line x1="373.0" y1="410.4" x2="373.0" y2="413.59999999999997" stroke="#000" stroke-width="1.0"/>
<rect x="389.4" y="324.43" width="5.6" height="85.97" fill="#000" stroke="none" stroke-width="0"/>
<rect x="398.2" y="345.54" width="5.9" height="64.86" fill="#a6a6a6" stroke="none" stroke-width="0"/>
<line x1="392.2" y1="321.33" x2="392.2" y2="324.43" stroke="#000" stroke-width="1.2"/>
<line x1="390.6" y1="321.63" x2="393.8" y2="321.63" stroke="#000" stroke-width="1.5"/>
<line x1="401.15" y1="338.19" x2="401.15" y2="345.54" stroke="#000" stroke-width="1.2"/>
<line x1="399.5" y1="338.49" x2="402.8" y2="338.49" stroke="#000" stroke-width="1.5"/>
<line x1="396.7" y1="410.4" x2="396.7" y2="413.59999999999997" stroke="#000" stroke-width="1.0"/>
<rect x="413.1" y="311.92" width="5.6" height="98.48" fill="#000" stroke="none" stroke-width="0"/>
<rect x="421.9" y="312.95" width="5.9" height="97.45" fill="#a6a6a6" stroke="none" stroke-width="0"/>
<line x1="415.9" y1="308.81" x2="415.9" y2="311.92" stroke="#000" stroke-width="1.2"/>
<line x1="414.3" y1="309.11" x2="417.5" y2="309.11" stroke="#000" stroke-width="1.5"/>
<line x1="424.85" y1="309.85" x2="424.85" y2="312.95" stroke="#000" stroke-width="1.2"/>
<line x1="423.2" y1="310.15000000000003" x2="426.5" y2="310.15000000000003" stroke="#000" stroke-width="1.5"/>
<line x1="420.4" y1="410.4" x2="420.4" y2="413.59999999999997" stroke="#000" stroke-width="1.0"/>
<rect x="436.8" y="323.4" width="5.6" height="87.0" fill="#000" stroke="none" stroke-width="0"/>
<rect x="445.6" y="316.05" width="5.9" height="94.35" fill="#a6a6a6" stroke="none" stroke-width="0"/>
<line x1="439.6" y1="307.78" x2="439.6" y2="323.4" stroke="#000" stroke-width="1.2"/>
<line x1="438.0" y1="308.08" x2="441.2" y2="308.08" stroke="#000" stroke-width="1.5"/>
<line x1="448.55" y1="307.78" x2="448.55" y2="316.05" stroke="#000" stroke-width="1.2"/>
<line x1="446.9" y1="308.08" x2="450.2" y2="308.08" stroke="#000" stroke-width="1.5"/>
<line x1="444.1" y1="410.4" x2="444.1" y2="413.59999999999997" stroke="#000" stroke-width="1.0"/>
<rect x="460.5" y="355.05" width="5.6" height="55.35" fill="#000" stroke="none" stroke-width="0"/>
<rect x="469.3" y="328.26" width="5.9" height="82.14" fill="#a6a6a6" stroke="none" stroke-width="0"/>
<line x1="463.3" y1="342.12" x2="463.3" y2="355.05" stroke="#000" stroke-width="1.2"/>
<line x1="461.7" y1="342.42" x2="464.9" y2="342.42" stroke="#000" stroke-width="1.5"/>
<line x1="472.25" y1="325.98" x2="472.25" y2="328.26" stroke="#000" stroke-width="1.2"/>
<line x1="470.6" y1="326.28000000000003" x2="473.9" y2="326.28000000000003" stroke="#000" stroke-width="1.5"/>
<line x1="467.8" y1="410.4" x2="467.8" y2="413.59999999999997" stroke="#000" stroke-width="1.0"/>
<text x="402.8" y="338.2" font-size="9.2" font-weight="normal" text-anchor="middle" fill="#000">***</text>
<text x="464.3" y="341.9" font-size="9.2" font-weight="normal" text-anchor="middle" fill="#000">**</text>
<text x="240.5" y="426.5" font-size="10.4" font-weight="bold" text-anchor="end" fill="#000" textLength="33.9" lengthAdjust="spacingAndGlyphs">DMSO</text>
<text x="254.7" y="426.0" font-size="10" font-weight="bold" text-anchor="middle" fill="#000">+</text>
<text x="278.3" y="426.0" font-size="10" font-weight="bold" text-anchor="middle" fill="#000">-</text>
<text x="302.6" y="426.0" font-size="10" font-weight="bold" text-anchor="middle" fill="#000">-</text>
<text x="326.7" y="426.0" font-size="10" font-weight="bold" text-anchor="middle" fill="#000">-</text>
<text x="351.1" y="426.0" font-size="10" font-weight="bold" text-anchor="middle" fill="#000">-</text>
<text x="375.7" y="426.0" font-size="10" font-weight="bold" text-anchor="middle" fill="#000">-</text>
<text x="397.5" y="426.0" font-size="10" font-weight="bold" text-anchor="middle" fill="#000">-</text>
<text x="420.8" y="426.0" font-size="10" font-weight="bold" text-anchor="middle" fill="#000">-</text>
<text x="446.6" y="426.0" font-size="10" font-weight="bold" text-anchor="middle" fill="#000">-</text>
<text x="469.7" y="426.0" font-size="10" font-weight="bold" text-anchor="middle" fill="#000">-</text>
<text x="240.5" y="443.3" font-size="10.4" font-weight="bold" text-anchor="end" fill="#000" textLength="35.7" lengthAdjust="spacingAndGlyphs">p110αi</text>
<text x="254.7" y="442.8" font-size="10" font-weight="bold" text-anchor="middle" fill="#000">-</text>
<text x="278.3" y="442.8" font-size="10" font-weight="bold" text-anchor="middle" fill="#000">+</text>
<text x="302.6" y="442.8" font-size="10" font-weight="bold" text-anchor="middle" fill="#000">-</text>
<text x="326.7" y="442.8" font-size="10" font-weight="bold" text-anchor="middle" fill="#000">-</text>
<text x="351.1" y="442.8" font-size="10" font-weight="bold" text-anchor="middle" fill="#000">-</text>
<text x="375.7" y="442.8" font-size="10" font-weight="bold" text-anchor="middle" fill="#000">+</text>
<text x="397.5" y="442.8" font-size="10" font-weight="bold" text-anchor="middle" fill="#000">+</text>
<text x="420.8" y="442.8" font-size="10" font-weight="bold" text-anchor="middle" fill="#000">+</text>
<text x="446.6" y="442.8" font-size="10" font-weight="bold" text-anchor="middle" fill="#000">-</text>
<text x="469.7" y="442.8" font-size="10" font-weight="bold" text-anchor="middle" fill="#000">-</text>
<text x="240.5" y="461.6" font-size="10.4" font-weight="bold" text-anchor="end" fill="#000" textLength="35.7" lengthAdjust="spacingAndGlyphs">p110βi</text>
<text x="254.7" y="461.1" font-size="10" font-weight="bold" text-anchor="middle" fill="#000">-</text>
<text x="278.3" y="461.1" font-size="10" font-weight="bold" text-anchor="middle" fill="#000">-</text>
<text x="302.6" y="461.1" font-size="10" font-weight="bold" text-anchor="middle" fill="#000">+</text>
<text x="326.7" y="461.1" font-size="10" font-weight="bold" text-anchor="middle" fill="#000">-</text>
<text x="351.1" y="461.1" font-size="10" font-weight="bold" text-anchor="middle" fill="#000">-</text>
<text x="375.7" y="461.1" font-size="10" font-weight="bold" text-anchor="middle" fill="#000">+</text>
<text x="397.5" y="461.1" font-size="10" font-weight="bold" text-anchor="middle" fill="#000">-</text>
<text x="420.8" y="461.1" font-size="10" font-weight="bold" text-anchor="middle" fill="#000">-</text>
<text x="446.6" y="461.1" font-size="10" font-weight="bold" text-anchor="middle" fill="#000">+</text>
<text x="469.7" y="461.1" font-size="10" font-weight="bold" text-anchor="middle" fill="#000">+</text>
<text x="240.5" y="479.2" font-size="10.4" font-weight="bold" text-anchor="end" fill="#000" textLength="27.6" lengthAdjust="spacingAndGlyphs">Akt1i</text>
<text x="254.7" y="478.7" font-size="10" font-weight="bold" text-anchor="middle" fill="#000">-</text>
<text x="278.3" y="478.7" font-size="10" font-weight="bold" text-anchor="middle" fill="#000">-</text>
<text x="302.6" y="478.7" font-size="10" font-weight="bold" text-anchor="middle" fill="#000">-</text>
<text x="326.7" y="478.7" font-size="10" font-weight="bold" text-anchor="middle" fill="#000">+</text>
<text x="351.1" y="478.7" font-size="10" font-weight="bold" text-anchor="middle" fill="#000">-</text>
<text x="375.7" y="478.7" font-size="10" font-weight="bold" text-anchor="middle" fill="#000">-</text>
<text x="397.5" y="478.7" font-size="10" font-weight="bold" text-anchor="middle" fill="#000">+</text>
<text x="420.8" y="478.7" font-size="10" font-weight="bold" text-anchor="middle" fill="#000">-</text>
<text x="446.6" y="478.7" font-size="10" font-weight="bold" text-anchor="middle" fill="#000">+</text>
<text x="469.7" y="478.7" font-size="10" font-weight="bold" text-anchor="middle" fill="#000">-</text>
<text x="240.5" y="498" font-size="10.4" font-weight="bold" text-anchor="end" fill="#000" textLength="27.6" lengthAdjust="spacingAndGlyphs">Akt2i</text>
<text x="254.7" y="497.5" font-size="10" font-weight="bold" text-anchor="middle" fill="#000">-</text>
<text x="278.3" y="497.5" font-size="10" font-weight="bold" text-anchor="middle" fill="#000">-</text>
<text x="302.6" y="497.5" font-size="10" font-weight="bold" text-anchor="middle" fill="#000">-</text>
<text x="326.7" y="497.5" font-size="10" font-weight="bold" text-anchor="middle" fill="#000">-</text>
<text x="351.1" y="497.5" font-size="10" font-weight="bold" text-anchor="middle" fill="#000">+</text>
<text x="375.7" y="497.5" font-size="10" font-weight="bold" text-anchor="middle" fill="#000">-</text>
<text x="397.5" y="497.5" font-size="10" font-weight="bold" text-anchor="middle" fill="#000">-</text>
<text x="420.8" y="497.5" font-size="10" font-weight="bold" text-anchor="middle" fill="#000">+</text>
<text x="446.6" y="497.5" font-size="10" font-weight="bold" text-anchor="middle" fill="#000">-</text>
<text x="469.7" y="497.5" font-size="10" font-weight="bold" text-anchor="middle" fill="#000">+</text>
</g>
<g id="panelH">
<text x="497.2" y="269.8" font-size="24" font-weight="bold" text-anchor="start" fill="#000">H</text>
<text transform="translate(502.4,341.3) rotate(-90)" font-size="11" font-weight="bold" text-anchor="middle" textLength="134" lengthAdjust="spacingAndGlyphs">Relative Clonogenicity</text>
<text x="580.3" y="285.6" font-size="12.2" font-weight="bold" text-anchor="middle" fill="#000">LNCaP</text>
<line x1="527.6" y1="265.2" x2="527.6" y2="409.2" stroke="#111" stroke-width="1.0"/>
<line x1="527.2" y1="409.2" x2="685" y2="409.2" stroke="#111" stroke-width="1.1"/>
<line x1="522.3000000000001" y1="313.3" x2="527.6" y2="313.3" stroke="#000" stroke-width="1.2"/>
<text x="521.9" y="316.7" font-size="9.6" font-weight="bold" text-anchor="end" fill="#000">100</text>
<line x1="522.3000000000001" y1="361.25" x2="527.6" y2="361.25" stroke="#000" stroke-width="1.2"/>
<text x="521.9" y="364.65" font-size="9.6" font-weight="bold" text-anchor="end" fill="#000">50</text>
<line x1="522.3000000000001" y1="409.2" x2="527.6" y2="409.2" stroke="#000" stroke-width="1.2"/>
<text x="521.9" y="412.59999999999997" font-size="9.6" font-weight="bold" text-anchor="end" fill="#000">0</text>
<text x="517.2" y="303.2" font-size="9.8" font-weight="bold" text-anchor="middle" fill="#000">%</text>
<line x1="512.5" y1="305.2" x2="522" y2="305.2" stroke="#000" stroke-width="0.8"/>
<rect x="535.3" y="313.3" width="16.5" height="95.9" fill="#000" stroke="none" stroke-width="0"/>
<line x1="543.55" y1="305.44" x2="543.55" y2="313.3" stroke="#333" stroke-width="1.1"/>
<line x1="539.4499999999999" y1="305.44" x2="547.65" y2="305.44" stroke="#333" stroke-width="1.1"/>
<line x1="543.55" y1="409.2" x2="543.55" y2="412.2" stroke="#000" stroke-width="0.9"/>
<rect x="559.9" y="336.99" width="16.5" height="72.21" fill="#d2d2d2" stroke="none" stroke-width="0"/>
<line x1="568.15" y1="327.49" x2="568.15" y2="336.99" stroke="#555" stroke-width="1.1"/>
<line x1="564.05" y1="327.49" x2="572.25" y2="327.49" stroke="#555" stroke-width="1.1"/>
<line x1="568.15" y1="409.2" x2="568.15" y2="412.2" stroke="#000" stroke-width="0.9"/>
<rect x="585" y="332.0" width="16.5" height="77.2" fill="#666" stroke="none" stroke-width="0"/>
<line x1="593.25" y1="313.3" x2="593.25" y2="332.0" stroke="#555" stroke-width="1.1"/>
<line x1="589.15" y1="313.3" x2="597.35" y2="313.3" stroke="#555" stroke-width="1.1"/>
<line x1="593.25" y1="409.2" x2="593.25" y2="412.2" stroke="#000" stroke-width="0.9"/>
<rect x="609.5" y="322.41" width="16.5" height="86.79" fill="#a3a3a3" stroke="none" stroke-width="0"/>
<line x1="617.75" y1="311.57" x2="617.75" y2="322.41" stroke="#555" stroke-width="1.1"/>
<line x1="613.65" y1="311.57" x2="621.85" y2="311.57" stroke="#555" stroke-width="1.1"/>
<line x1="617.75" y1="409.2" x2="617.75" y2="412.2" stroke="#000" stroke-width="0.9"/>
<rect x="634.3" y="344.18" width="16.5" height="65.02" fill="#666" stroke="none" stroke-width="0"/>
<line x1="642.55" y1="334.69" x2="642.55" y2="344.18" stroke="#555" stroke-width="1.1"/>
<line x1="638.4499999999999" y1="334.69" x2="646.65" y2="334.69" stroke="#555" stroke-width="1.1"/>
<line x1="642.55" y1="409.2" x2="642.55" y2="412.2" stroke="#000" stroke-width="0.9"/>
<rect x="658.8" y="371.8" width="16.5" height="37.4" fill="#e8e8e8" stroke="none" stroke-width="0"/>
<line x1="667.05" y1="368.92" x2="667.05" y2="371.8" stroke="#222" stroke-width="1.1"/>
<line x1="662.9499999999999" y1="368.92" x2="671.15" y2="368.92" stroke="#222" stroke-width="1.1"/>
<line x1="667.05" y1="409.2" x2="667.05" y2="412.2" stroke="#000" stroke-width="0.9"/>
<text x="567.8" y="322.0" font-size="11" font-weight="normal" text-anchor="middle" fill="#000">*</text>
<text x="642.4" y="329.1" font-size="11" font-weight="normal" text-anchor="middle" fill="#000">**</text>
<text x="666.8" y="367.8" font-size="11" font-weight="normal" text-anchor="middle" fill="#000">****</text>
<text x="529" y="425.7" font-size="10.4" font-weight="bold" text-anchor="end" fill="#000" textLength="34.2" lengthAdjust="spacingAndGlyphs">DMSO</text>
<text x="544.9" y="425.2" font-size="10" font-weight="bold" text-anchor="middle" fill="#000">+</text>
<text x="570.5" y="425.2" font-size="10" font-weight="bold" text-anchor="middle" fill="#000">-</text>
<text x="595" y="425.2" font-size="10" font-weight="bold" text-anchor="middle" fill="#000">-</text>
<text x="620.2" y="425.2" font-size="10" font-weight="bold" text-anchor="middle" fill="#000">-</text>
<text x="644.7" y="425.2" font-size="10" font-weight="bold" text-anchor="middle" fill="#000">-</text>
<text x="668" y="425.2" font-size="10" font-weight="bold" text-anchor="middle" fill="#000">-</text>
<text x="529" y="443.8" font-size="10.4" font-weight="bold" text-anchor="end" fill="#000" textLength="35.9" lengthAdjust="spacingAndGlyphs">p110αi</text>
<text x="544.9" y="443.3" font-size="10" font-weight="bold" text-anchor="middle" fill="#000">-</text>
<text x="570.5" y="443.3" font-size="10" font-weight="bold" text-anchor="middle" fill="#000">+</text>
<text x="595" y="443.3" font-size="10" font-weight="bold" text-anchor="middle" fill="#000">+</text>
<text x="620.2" y="443.3" font-size="10" font-weight="bold" text-anchor="middle" fill="#000">+</text>
<text x="644.7" y="443.3" font-size="10" font-weight="bold" text-anchor="middle" fill="#000">-</text>
<text x="668" y="443.3" font-size="10" font-weight="bold" text-anchor="middle" fill="#000">-</text>
<text x="529" y="461.9" font-size="10.4" font-weight="bold" text-anchor="end" fill="#000" textLength="35.9" lengthAdjust="spacingAndGlyphs">p110βi</text>
<text x="544.9" y="461.4" font-size="10" font-weight="bold" text-anchor="middle" fill="#000">-</text>
<text x="570.5" y="461.4" font-size="10" font-weight="bold" text-anchor="middle" fill="#000">+</text>
<text x="595" y="461.4" font-size="10" font-weight="bold" text-anchor="middle" fill="#000">-</text>
<text x="620.2" y="461.4" font-size="10" font-weight="bold" text-anchor="middle" fill="#000">-</text>
<text x="644.7" y="461.4" font-size="10" font-weight="bold" text-anchor="middle" fill="#000">+</text>
<text x="668" y="461.4" font-size="10" font-weight="bold" text-anchor="middle" fill="#000">+</text>
<text x="529" y="480" font-size="10.4" font-weight="bold" text-anchor="end" fill="#000" textLength="27.7" lengthAdjust="spacingAndGlyphs">Akt1i</text>
<text x="544.9" y="479.5" font-size="10" font-weight="bold" text-anchor="middle" fill="#000">-</text>
<text x="570.5" y="479.5" font-size="10" font-weight="bold" text-anchor="middle" fill="#000">-</text>
<text x="595" y="479.5" font-size="10" font-weight="bold" text-anchor="middle" fill="#000">+</text>
<text x="620.2" y="479.5" font-size="10" font-weight="bold" text-anchor="middle" fill="#000">-</text>
<text x="644.7" y="479.5" font-size="10" font-weight="bold" text-anchor="middle" fill="#000">+</text>
<text x="668" y="479.5" font-size="10" font-weight="bold" text-anchor="middle" fill="#000">-</text>
<text x="529" y="498.3" font-size="10.4" font-weight="bold" text-anchor="end" fill="#000" textLength="27.7" lengthAdjust="spacingAndGlyphs">Akt2i</text>
<text x="544.9" y="497.8" font-size="10" font-weight="bold" text-anchor="middle" fill="#000">-</text>
<text x="570.5" y="497.8" font-size="10" font-weight="bold" text-anchor="middle" fill="#000">-</text>
<text x="595" y="497.8" font-size="10" font-weight="bold" text-anchor="middle" fill="#000">-</text>
<text x="620.2" y="497.8" font-size="10" font-weight="bold" text-anchor="middle" fill="#000">+</text>
<text x="644.7" y="497.8" font-size="10" font-weight="bold" text-anchor="middle" fill="#000">-</text>
<text x="668" y="497.8" font-size="10" font-weight="bold" text-anchor="middle" fill="#000">+</text>
</g>
</svg>
</body></html>
